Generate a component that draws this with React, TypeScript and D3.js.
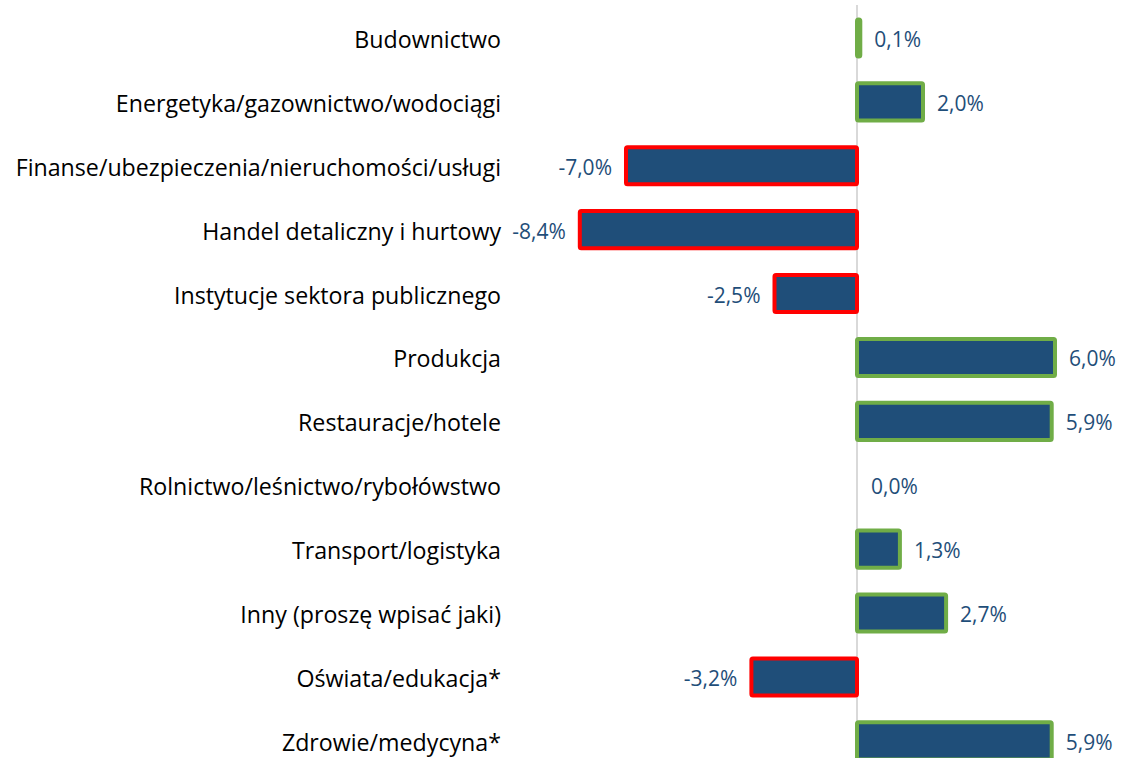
import React from "react";
import * as d3 from "d3";

const categories = [
  "Budownictwo",
  "Energetyka/gazownictwo/wodociągi",
  "Finanse/ubezpieczenia/nieruchomości/usługi",
  "Handel detaliczny i hurtowy",
  "Instytucje sektora publicznego",
  "Produkcja",
  "Restauracje/hotele",
  "Rolnictwo/leśnictwo/rybołówstwo",
  "Transport/logistyka",
  "Inny (proszę wpisać jaki)",
  "Oświata/edukacja*",
  "Zdrowie/medycyna*",
];
const values = [0.1, 2.0, -7.0, -8.4, -2.5, 6.0, 5.9, 0.0, 1.3, 2.7, -3.2, 5.9];

const W = 1122;
const H = 758;
const FONT = "'Open Sans', sans-serif";

export default function App() {
  const x = d3.scaleLinear().domain([-9, 7]).range([560, 1088]);
  const y = d3
    .scaleBand<string>()
    .domain(categories)
    .range([6, 6 + 12 * 63.9])
    .paddingInner(0.42)
    .paddingOuter(0.21);
  const fmt = (v: number) => v.toFixed(1).replace(".", ",") + "%";
  const x0 = x(0);
  return (
    <svg
      width={W}
      height={H}
      style={{ position: "absolute", left: 0, top: 0, background: "#fff" }}
    >
      <line x1={x0} x2={x0} y1={5} y2={H} stroke="#D9D9D9" strokeWidth={2} />
      {categories.map((c, i) => {
        const v = values[i];
        const yc = (y(c) as number) + y.bandwidth() / 2;
        const xs = Math.min(x(v), x0);
        const w = Math.abs(x(v) - x0);
        const pos = v >= 0;
        return (
          <g key={c}>
            {v !== 0 && (
              <rect
                x={xs}
                y={y(c)}
                width={w}
                height={y.bandwidth()}
                fill="#1F4E79"
                stroke={pos ? "#70AD47" : "#FF0000"}
                strokeWidth={4}
                rx={1.5}
              />
            )}
            <text
              x={501}
              y={yc + 1}
              textAnchor="end"
              dominantBaseline="central"
              fontFamily={FONT}
              fontSize={23.2}
              fill="#000"
            >
              {c}
            </text>
            <text
              x={pos ? x(v) + 14 : x(v) - 14}
              y={yc + 1}
              textAnchor={pos ? "start" : "end"}
              dominantBaseline="central"
              fontFamily={FONT}
              fontSize={21}
              fill="#1F4E79"
            >
              {fmt(v)}
            </text>
          </g>
        );
      })}
    </svg>
  );
}
